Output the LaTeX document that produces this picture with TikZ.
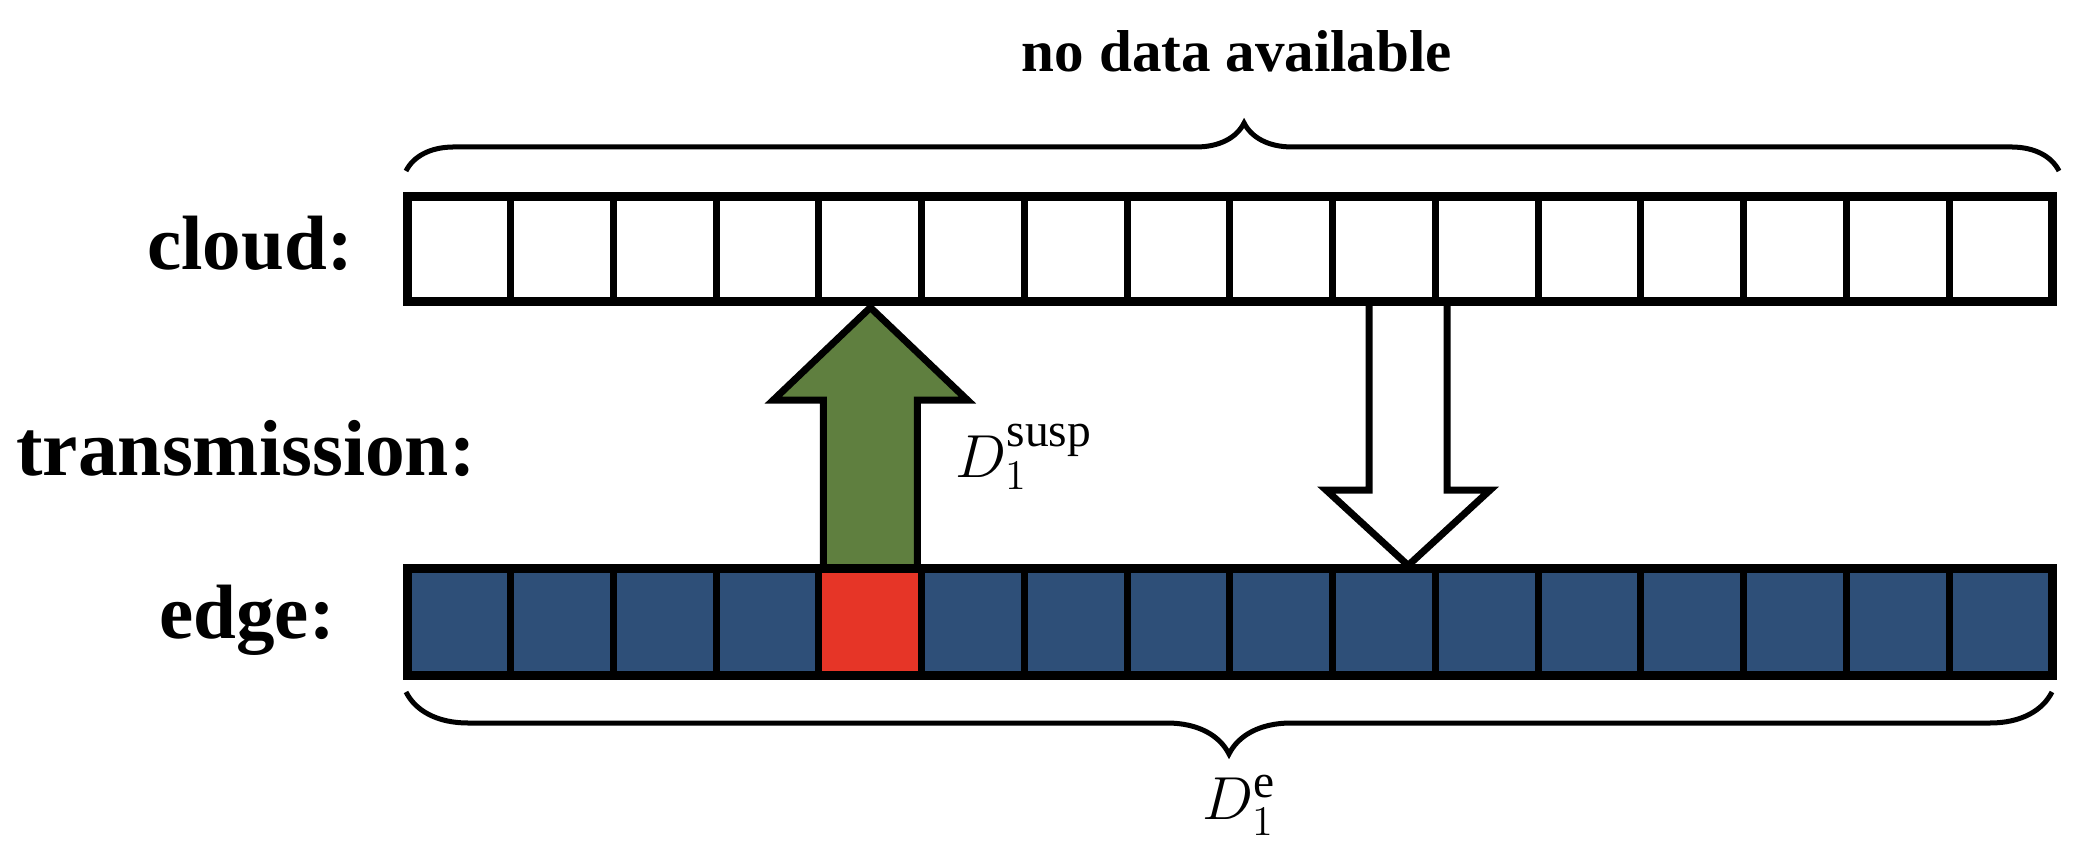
\documentclass[tikz,border=0pt]{standalone}
\usepackage{fontspec}
\setmainfont{Liberation Serif}
\usetikzlibrary{calc,decorations.pathreplacing}
\definecolor{edgeblue}{HTML}{2E4F78}
\definecolor{suspred}{HTML}{E63527}
\definecolor{arrgreen}{HTML}{5F7F3F}
\newcommand{\suptext}[1]{\hbox{\fontsize{13.5}{14}\selectfont #1}}
\begin{document}
\begin{tikzpicture}[x=0.01cm,y=-0.01cm,
  cell/.style={rectangle,draw=black,line width=0.07cm,minimum width=1.0275cm,inner sep=0pt,outer sep=0pt},
  cloudcell/.style={cell,fill=white,minimum height=1.05cm},
  edgecell/.style={cell,minimum height=1.07cm},
  barframe/.style={draw=black,line width=0.09cm},
  blockarrow/.style={draw=black,line width=0.07cm,line join=miter},
  bigbrace/.style={decorate,draw=black,line width=0.05cm},
  rowlabel/.style={font=\bfseries\fontsize{21.9}{26}\selectfont,inner sep=0pt,anchor=base},
  mathlabel/.style={font=\fontsize{17}{20}\selectfont,inner sep=0pt,anchor=base west}]
\useasboundingbox (0,0) rectangle (2096,862);

% cells
\foreach \i in {1,...,16} {
  \ifnum\i=5 \def\fc{suspred}\else\def\fc{edgeblue}\fi
  \node[cloudcell] (c\i) at ({408+102.75*(\i-0.5)},249) {};
  \node[edgecell,fill=\fc] (e\i) at ({408+102.75*(\i-0.5)},622) {};
}

% block arrows
\draw[blockarrow,fill=arrgreen] ($(e5.north)+(-47,0)$) -- ($(c5.south)+(-47,98.5)$)
  -- ($(c5.south)+(-97,98.5)$) -- ($(c5.south)+(0,6)$) -- ($(c5.south)+(97,98.5)$)
  -- ($(c5.south)+(47,98.5)$) -- ($(e5.north)+(47,0)$) -- cycle;
\draw[blockarrow,fill=white] ($(c10.south)+(-15,0)$) -- ($(c10.south)+(-15,188.5)$)
  -- ($(c10.south)+(-58,188.5)$) -- ($(e10.north)+(24,-3)$) -- ($(c10.south)+(106,188.5)$)
  -- ($(c10.south)+(63,188.5)$) -- ($(c10.south)+(63,0)$) -- cycle;

% frames
\draw[barframe] (c1.north west) rectangle (c16.south east);
\draw[barframe] (e1.north west) rectangle (e16.south east);

% braces
\coordinate (tb1) at (406,171);
\coordinate (tb2) at (2059,171);
\draw[bigbrace,decoration={brace,amplitude=0.48cm,aspect=0.507}] (tb1) -- (tb2);
\coordinate (bb1) at (406,692);
\coordinate (bb2) at (2052,692);
\draw[bigbrace,decoration={brace,mirror,amplitude=0.62cm}] (bb1) -- (bb2);

% texts
\node[font=\bfseries\fontsize{16.8}{20}\selectfont,inner sep=0pt,anchor=base] (nodata) at (1237,72) {no data available};
\node[rowlabel] (lcloud) at (250,270) {cloud:};
\node[rowlabel,font=\bfseries\fontsize{22.6}{26}\selectfont] (ltrans) at (246,476) {transmission:};
\node[rowlabel] (ledge) at (247,639) {edge:};
\node[mathlabel] (dsusp) at (955,478) {$D_1^{\suptext{susp}}$};
\node[mathlabel] (de) at (1202,820) {$D_1^{\suptext{e}}$};
\end{tikzpicture}
\end{document}
